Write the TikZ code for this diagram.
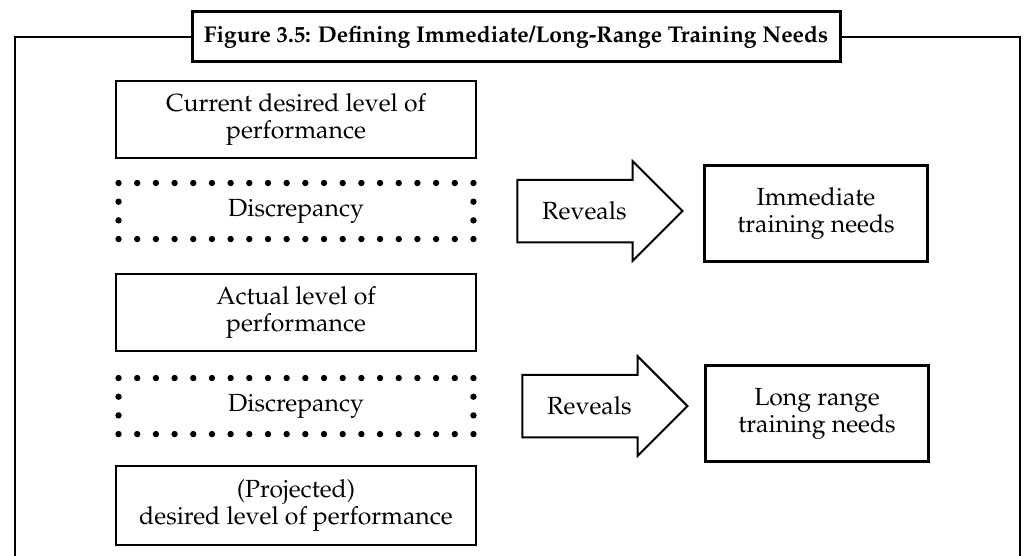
\documentclass[tikz,border=0pt]{standalone}
\usepackage[T1]{fontenc}
\usepackage{mathpazo}
\usetikzlibrary{shapes.arrows,positioning}

\begin{document}
\begin{tikzpicture}[x=0.5pt, y=-0.5pt,
    every node/.style={font=\fontsize{12.4}{13.5}\selectfont, align=center, outer sep=0pt},
    levelbox/.style={draw, line width=1.3pt, minimum width=180pt, minimum height=38.5pt, inner sep=0pt},
    gapbox/.style={draw, line width=3.2pt, line cap=round, dash pattern=on 0pt off 9.34pt,
      minimum width=177.46pt, minimum height=28.02pt, inner sep=0pt},
    needbox/.style={draw, line width=1.3pt, minimum width=111.5pt, minimum height=48pt, inner sep=0pt},
    reveal/.style={draw, line width=1pt, single arrow, single arrow head extend=9.25pt,
      single arrow tip angle=90, minimum height=82.5pt, inner xsep=0pt, inner ysep=10.5pt}]
    \useasboundingbox (0,0) rectangle (1032,556);
    % title and frame
    \node (title) [draw, line width=1.5pt, minimum width=324pt, minimum height=25pt, inner sep=0pt,
      font=\fontsize{11.4}{13}\selectfont\bfseries] at (516,37)
      {Figure 3.5: Defining Immediate/Long-Range Training Needs};
    \coordinate (fl) at (15,556);
    \coordinate (fr) at (1020,556);
    \draw[line width=1pt] (title.west) -- (fl |- title.west) -- (fl);
    \draw[line width=1pt] (title.east) -- (fr |- title.east) -- (fr);
    % left column
    \node (current) [levelbox] at (296,119.5) {Current desired level of\\performance};
    \node (gap1) [gapbox, below=12.5pt of current] {Discrepancy};
    \node (actual) [levelbox, below=17.5pt of gap1] {Actual level of\\performance};
    \node (gap2) [gapbox, below=13.5pt of actual] {Discrepancy};
    \node (projected) [levelbox, below=16pt of gap2, minimum height=39.5pt] {(Projected)\\desired level of performance};
    % right column
    \node (rev1) [reveal, right=22pt of gap1] {Reveals};
    \node (immediate) [needbox, right=11pt of rev1, yshift=-1.2pt] {Immediate\\training needs};
    \node (rev2) [reveal, right=24.5pt of gap2] {Reveals};
    \node (longrange) [needbox, right=9pt of rev2, yshift=-3.7pt] {Long range\\training needs};
\end{tikzpicture}
\end{document}
